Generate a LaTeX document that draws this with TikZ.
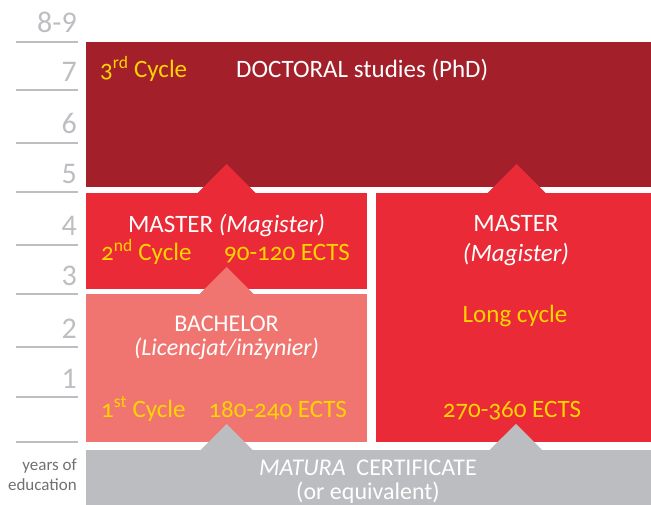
\documentclass[tikz,border=0pt]{standalone}
\usepackage{fontspec}
\setmainfont{Carlito}[Numbers=OldStyle]
\newfontfamily\axisfont{Carlito}[Numbers=Lining]

\definecolor{docred}{RGB}{163,32,43}
\definecolor{masterred}{RGB}{234,43,55}
\definecolor{bachred}{RGB}{240,117,112}
\definecolor{maturagray}{RGB}{188,189,192}
\definecolor{cycleyellow}{RGB}{255,212,0}
\definecolor{axisgray}{RGB}{190,190,194}
\definecolor{notegray}{RGB}{112,112,114}

\begin{document}
\begin{tikzpicture}[x=1pt,y=-1pt]
    % Define basic node styles
    \tikzset{
        block/.style={
            rectangle,
            inner sep=0pt,
            outer sep=0pt
        },
        label/.style={
            inner sep=0pt,
            font=\fontsize{25}{30}\selectfont
        },
        title/.style={label, text=white, align=center},
        cycle/.style={label, text=cycleyellow},
        years/.style={
            inner sep=0pt,
            text=axisgray,
            font=\axisfont\fontsize{30}{36}\selectfont,
            anchor=base east
        },
        tick/.style={draw=axisgray, line width=2pt}
    }
    \useasboundingbox (0,0) rectangle (651,505);

    % Study blocks
    \node[block, fill=docred, minimum width=565pt, minimum height=145pt] (doctoral) at (368.5,114.5) {};
    \node[block, fill=masterred, minimum width=281pt, minimum height=96pt] (master) at (226.5,241) {};
    \node[block, fill=bachred, minimum width=281pt, minimum height=148pt] (bachelor) at (226.5,368) {};
    \node[block, fill=masterred, minimum width=275pt, minimum height=249pt] (longmaster) at (513.5,317.5) {};
    \node[block, fill=maturagray, minimum width=565pt, minimum height=55pt] (matura) at (368.5,477.5) {};

    % Access arrows between levels
    \fill[masterred] ([xshift=-29pt]master.north) -- ([yshift=29pt]master.north) -- ([xshift=29pt]master.north) -- cycle;
    \fill[masterred] ([xshift=-26pt]longmaster.north) -- ([xshift=3pt,yshift=29pt]longmaster.north) -- ([xshift=32pt]longmaster.north) -- cycle;
    \fill[bachred] ([xshift=-27pt]bachelor.north) -- ([yshift=27pt]bachelor.north) -- ([xshift=27pt]bachelor.north) -- cycle;
    \fill[maturagray] ([xshift=-26pt]bachelor.south |- matura.north) -- ([yshift=26pt]bachelor.south |- matura.north) -- ([xshift=26pt]bachelor.south |- matura.north) -- cycle;
    \fill[maturagray] ([xshift=-24pt]longmaster.south |- matura.north) -- ([xshift=2.5pt,yshift=26pt]longmaster.south |- matura.north) -- ([xshift=28.5pt]longmaster.south |- matura.north) -- cycle;

    % Doctoral studies
    \node[cycle, anchor=base west] (thirdcycle) at (100,78) {3\textsuperscript{rd} Cycle};
    \node[title, anchor=base west] (doctext) at (236,78) {DOCTORAL studies (PhD)};

    % Master (second cycle)
    \node[title, anchor=base] (mastertext) at (226.5,233) {MASTER \textit{(Magister)}};
    \node[cycle, anchor=base west] (secondcycle) at (101,261) {2\textsuperscript{nd} Cycle};
    \node[cycle, anchor=base east] (masterects) at (350,261) {90-120 ECTS};

    % Bachelor (first cycle)
    \node[title, anchor=base, font=\fontsize{24}{24}\selectfont] (bachtext) at (226.5,355) {BACHELOR\\\textit{(Licencjat/inżynier)}};
    \node[cycle, anchor=base west] (firstcycle) at (101,417) {1\textsuperscript{st} Cycle};
    \node[cycle, anchor=base east] (bachects) at (347,417) {180-240 ECTS};

    % Long-cycle master
    \node[title, anchor=base] (longtext) at (516,262) {MASTER\\\textit{(Magister)}};
    \node[cycle, anchor=base] (longcycle) at (515,323) {Long cycle};
    \node[cycle, anchor=base] (longects) at (512,417) {270-360 ECTS};

    % Matura
    \node[title, anchor=base, font=\fontsize{24}{24}\selectfont] (maturatext) at (368,499) {\textit{MATURA}\/ \ CERTIFICATE\\(or equivalent)};

    % Years axis
    \draw[tick] (16,42) -- (78,42);
    \draw[tick] (16,90) -- (78,90);
    \draw[tick] (16,143) -- (78,143);
    \draw[tick] (16,192) -- (78,192);
    \draw[tick] (16,245) -- (78,245);
    \draw[tick] (16,294) -- (78,294);
    \draw[tick] (16,347) -- (78,347);
    \draw[tick] (16,397) -- (78,397);
    \draw[tick] (16,442) -- (78,442);
    \node[years] (y89) at (77,33) {8-9};
    \node[years] (y7) at (77,82) {7};
    \node[years] (y6) at (77,134) {6};
    \node[years] (y5) at (77,184) {5};
    \node[years] (y4) at (77,236) {4};
    \node[years] (y3) at (77,286) {3};
    \node[years] (y2) at (77,338) {2};
    \node[years] (y1) at (77,388) {1};
    \node[inner sep=0pt, text=notegray, align=right, anchor=base east,
        font=\fontsize{17}{20}\selectfont] (yearsnote) at (77,490) {years of\\education};
\end{tikzpicture}
\end{document}
